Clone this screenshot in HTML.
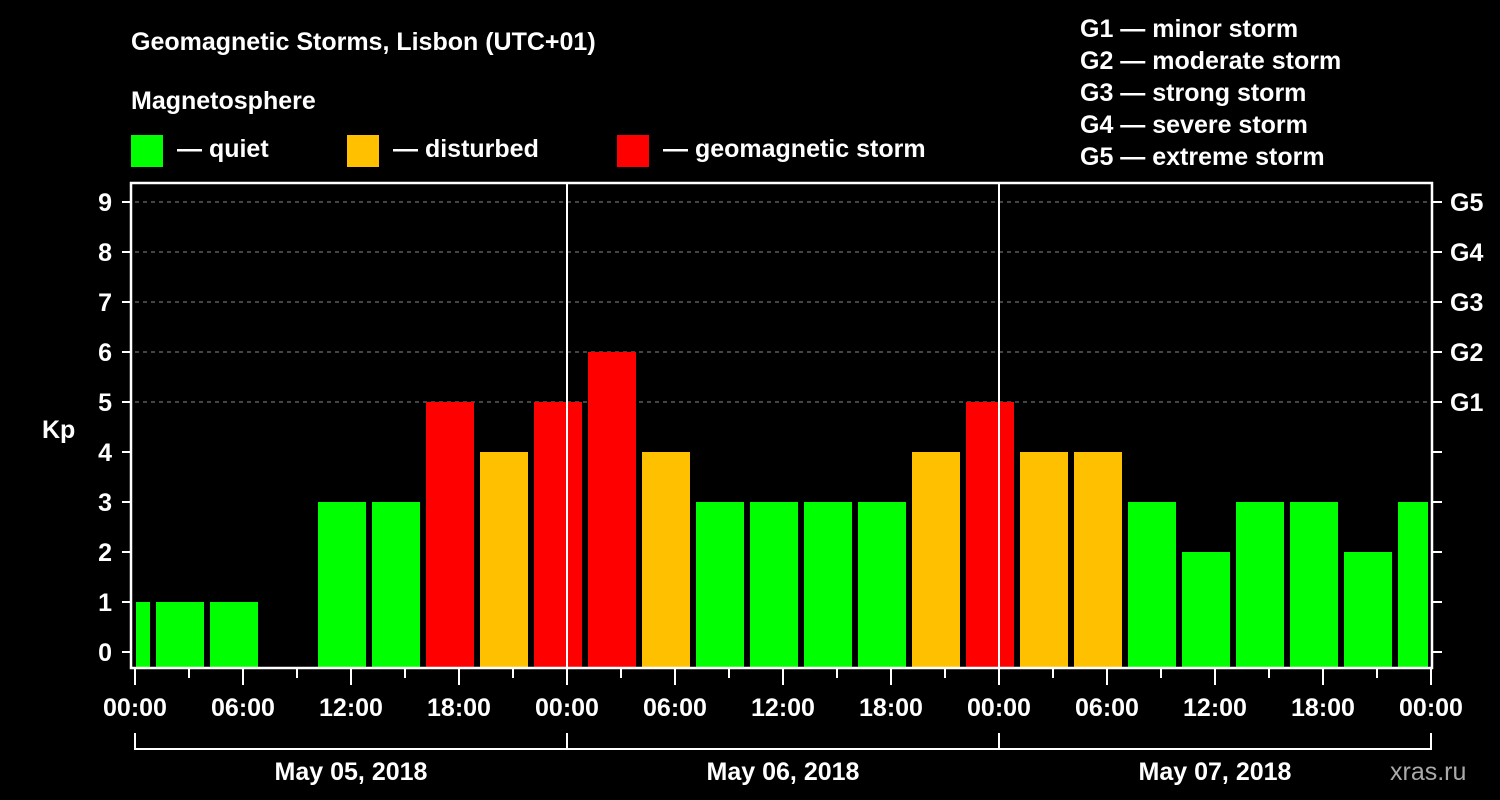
<!DOCTYPE html>
<html><head><meta charset="utf-8"><style>
html,body{margin:0;padding:0;background:#000;}
svg{display:block;font-family:"Liberation Sans",sans-serif;font-weight:bold;}
</style></head><body>
<svg id="chart" width="1500" height="800" viewBox="0 0 1500 800">
<rect width="1500" height="800" fill="#000"/>
<text x="131" y="50" fill="#fff" font-size="25">Geomagnetic Storms, Lisbon (UTC+01)</text>
<text x="131" y="109" fill="#fff" font-size="25">Magnetosphere</text>
<rect x="131" y="135" width="32" height="32" fill="#00ff00"/>
<text x="177" y="157" fill="#fff" font-size="25">— quiet</text>
<rect x="347" y="135" width="32" height="32" fill="#ffc000"/>
<text x="393" y="157" fill="#fff" font-size="25">— disturbed</text>
<rect x="617" y="135" width="32" height="32" fill="#ff0000"/>
<text x="663" y="157" fill="#fff" font-size="25">— geomagnetic storm</text>
<g fill="#fff" font-size="25">
<text x="1080" y="37">G1 — minor storm</text>
<text x="1080" y="69">G2 — moderate storm</text>
<text x="1080" y="101">G3 — strong storm</text>
<text x="1080" y="133">G4 — severe storm</text>
<text x="1080" y="165">G5 — extreme storm</text>
</g>
<text x="42" y="438" fill="#fff" font-size="25">Kp</text>
<text x="1390" y="780" fill="#aaa" font-size="25" font-weight="normal">xras.ru</text>
<g id="grid"></g>
<g id="bars"></g>
<g id="axes"></g>
</svg>
<script>
const kpValues = [1,1,1,0,3,3,5,4,5,6,4,3,3,3,3,4,5,4,4,3,2,3,3,2,3];
const yTicks = [0,1,2,3,4,5,6,7,8,9];
const gLabels = ["G1","G2","G3","G4","G5"];
const gLevels = [5,6,7,8,9];
const xTickLabels = ["00:00","06:00","12:00","18:00","00:00","06:00","12:00","18:00","00:00","06:00","12:00","18:00","00:00"];
const dayLabels = ["May 05, 2018","May 06, 2018","May 07, 2018"];

const NS="http://www.w3.org/2000/svg";
const X0=135, PXH=18, TOTALH=72, X1=X0+PXH*TOTALH, TOP=183, BOT=668;
const x = h => X0 + h*PXH;
const y = v => 652 - v*50;
function el(tag, attrs, parent){const e=document.createElementNS(NS,tag);for(const k in attrs)e.setAttribute(k,attrs[k]);parent.appendChild(e);return e;}
const grid=document.getElementById('grid'), bars=document.getElementById('bars'), axes=document.getElementById('axes');

gLevels.forEach(v=>{
  const l=el('line',{x1:X0,x2:X1,y1:y(v),y2:y(v),stroke:'#888','stroke-width':1,'stroke-dasharray':'4,4'},grid);
  
  
});
function color(v){return v>=5?'#ff0000':(v>=4?'#ffc000':'#00ff00');}
kpValues.forEach((v,i)=>{
  if(v<=0) return;
  let h0=-2+3*i, h1=h0+3;
  let a=Math.max(x(h0)+3, X0+1), b=Math.min(x(h1)-3, X1-3);
  const r=el('rect',{x:a,y:y(v),width:b-a,height:BOT-y(v),fill:color(v)},bars);
  
  
});
[1,2].forEach(d=>{
  const l=el('line',{x1:x(24*d),x2:x(24*d),y1:TOP,y2:BOT,stroke:'#fff','stroke-width':2},axes);
  
  
});
const frame=el('rect',{x:X0-4,y:TOP,width:X1-X0+5,height:BOT-TOP,fill:'none',stroke:'#fff','stroke-width':2.5},axes);


yTicks.forEach(v=>{
  el('line',{x1:122,x2:131,y1:y(v),y2:y(v),stroke:'#fff','stroke-width':2},axes);
  el('line',{x1:X1+1,x2:X1+11,y1:y(v),y2:y(v),stroke:'#fff','stroke-width':2},axes);
  const t=el('text',{x:112,y:y(v)+9,fill:'#fff','font-size':25,'text-anchor':'end'},axes);
  t.textContent=v;
  
  
});
gLevels.forEach((v,i)=>{
  const t=el('text',{x:1450,y:y(v)+9,fill:'#fff','font-size':25},axes);
  t.textContent=gLabels[i];
  
  
});
for(let h=0;h<=TOTALH;h+=3){
  const major=h%6===0;
  el('line',{x1:x(h),x2:x(h),y1:BOT,y2:major?685:678,stroke:'#fff','stroke-width':2},axes);
}
xTickLabels.forEach((s,i)=>{
  const t=el('text',{x:x(i*6),y:716,fill:'#fff','font-size':25,'text-anchor':'middle'},axes);
  t.textContent=s;
  
  
});
dayLabels.forEach((s,i)=>{
  const a=x(24*i), b=x(24*(i+1));
  el('line',{x1:a,x2:b,y1:749,y2:749,stroke:'#fff','stroke-width':2},axes);
  el('line',{x1:a,x2:a,y1:733,y2:750,stroke:'#fff','stroke-width':2},axes);
  el('line',{x1:b,x2:b,y1:733,y2:750,stroke:'#fff','stroke-width':2},axes);
  const t=el('text',{x:(a+b)/2,y:780,fill:'#fff','font-size':25,'text-anchor':'middle'},axes);
  t.textContent=s;
  
  
});
</script>
</body></html>
